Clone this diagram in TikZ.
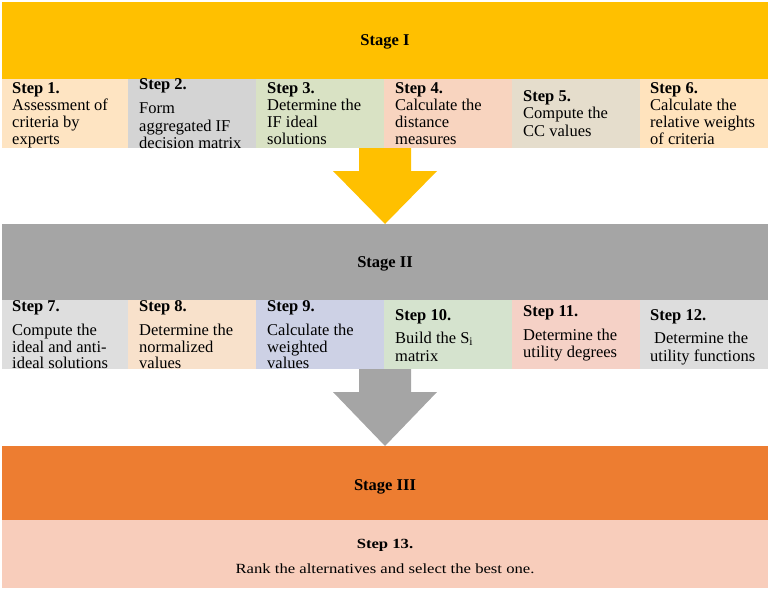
\documentclass[tikz,border=0pt]{standalone}
\usepackage{fontspec}
\setmainfont{Liberation Serif}
\usetikzlibrary{calc}
\definecolor{cStageI}{HTML}{FFC000}
\definecolor{cStageII}{HTML}{A5A5A5}
\definecolor{cStageIII}{HTML}{ED7D31}
\definecolor{cStepXIII}{HTML}{F8CDBB}
\definecolor{cS1}{HTML}{FEE4C2}
\definecolor{cS2}{HTML}{D4D4D4}
\definecolor{cS3}{HTML}{D9E2C4}
\definecolor{cS4}{HTML}{F8D4BF}
\definecolor{cS5}{HTML}{E5DDCC}
\definecolor{cS6}{HTML}{FFE3BD}
\definecolor{cS7}{HTML}{DEDEDE}
\definecolor{cS8}{HTML}{F8E1CB}
\definecolor{cS9}{HTML}{CDD1E5}
\definecolor{cS10}{HTML}{D5E3CE}
\definecolor{cS11}{HTML}{F5D1C6}
\definecolor{cS12}{HTML}{DDDDDD}
\tikzset{
  cellbox/.style={anchor=north west, inner sep=0pt, outer sep=0pt, minimum width=128pt, minimum height=#1, draw=none},
  barbox/.style={anchor=north west, inner sep=0pt, outer sep=0pt, minimum width=766pt, minimum height=#1, draw=none},
  steptext/.style={anchor=base west, inner sep=0pt, font=\fontsize{16.5}{17}\selectfont},
  stagetext/.style={anchor=base, inner sep=0pt, font=\fontsize{16.5}{17}\selectfont\bfseries},
}
\newcommand{\steplines}[1]{\begin{tabular}[t]{@{}l@{}}#1\end{tabular}}
\begin{document}
\begin{tikzpicture}[x=1pt,y=-1pt]
\useasboundingbox (0,0) rectangle (770,592);
% Stage I
\node[barbox=77pt, fill=cStageI] (stI) at (2,2) {};
\node[cellbox=69pt, fill=cS1] (s1) at (2,79) {};
\node[cellbox=69pt, fill=cS2] (s2) at (128,79) {};
\node[cellbox=69pt, fill=cS3] (s3) at (256,79) {};
\node[cellbox=69pt, fill=cS4] (s4) at (384,79) {};
\node[cellbox=69pt, fill=cS5] (s5) at (512,79) {};
\node[cellbox=69pt, fill=cS6] (s6) at (640,79) {};
% Stage II
\node[barbox=76pt, fill=cStageII] (stII) at (2,224) {};
\node[cellbox=69pt, fill=cS7] (s7) at (2,300) {};
\node[cellbox=69pt, fill=cS8] (s8) at (128,300) {};
\node[cellbox=69pt, fill=cS9] (s9) at (256,300) {};
\node[cellbox=69pt, fill=cS10] (s10) at (384,300) {};
\node[cellbox=69pt, fill=cS11] (s11) at (512,300) {};
\node[cellbox=69pt, fill=cS12] (s12) at (640,300) {};
% Stage III
\node[barbox=74pt, fill=cStageIII] (stIII) at (2,446) {};
\node[barbox=68pt, fill=cStepXIII] (s13) at (2,520) {};
% arrows
\fill[cStageI] ([xshift=-26pt]stII.north |- s4.south) -- ([xshift=26pt]stII.north |- s4.south)
  -- ([xshift=26pt,yshift=53pt]stII.north) -- ([xshift=52pt,yshift=53pt]stII.north)
  -- (stII.north) -- ([xshift=-52pt,yshift=53pt]stII.north)
  -- ([xshift=-26pt,yshift=53pt]stII.north) -- cycle;
\fill[cStageII] ([xshift=-26pt]stIII.north |- s10.south) -- ([xshift=26pt]stIII.north |- s10.south)
  -- ([xshift=26pt,yshift=54pt]stIII.north) -- ([xshift=52pt,yshift=54pt]stIII.north)
  -- (stIII.north) -- ([xshift=-52pt,yshift=54pt]stIII.north)
  -- ([xshift=-26pt,yshift=54pt]stIII.north) -- cycle;
% stage labels
\node[stagetext] (tI) at (385,45) {Stage I};
\node[stagetext] (tII) at (385,267) {Stage II};
\node[stagetext] (tIII) at (385,490) {Stage III};
% step texts row 1
\node[steptext] (t1) at (12,93) {\steplines{\textbf{Step 1.}\\Assessment of\\criteria by\\experts}};
\node[steptext] (t2) at (139,89) {\steplines{\textbf{Step 2.}\\[7pt]Form\\[1pt]aggregated IF\\decision matrix}};
\node[steptext] (t3) at (267,93) {\steplines{\textbf{Step 3.}\\Determine the\\IF ideal\\solutions}};
\node[steptext] (t4) at (395,93) {\steplines{\textbf{Step 4.}\\Calculate the\\distance\\measures}};
\node[steptext] (t5) at (523,101) {\steplines{\textbf{Step 5.}\\Compute the\\[1pt]CC values}};
\node[steptext] (t6) at (650,93) {\steplines{\textbf{Step 6.}\\Calculate the\\relative weights\\of criteria}};
% step texts row 2
\node[steptext] (t7) at (12,311) {\steplines{\textbf{Step 7.}\\[7pt]Compute the\\ideal and anti-\\[-1pt]ideal solutions}};
\node[steptext] (t8) at (139,311) {\steplines{\textbf{Step 8.}\\[7pt]Determine the\\normalized\\[-1pt]values}};
\node[steptext] (t9) at (267,311) {\steplines{\textbf{Step 9.}\\[7pt]Calculate the\\weighted\\[-1pt]values}};
\node[steptext] (t10) at (395,320) {\steplines{\textbf{Step 10.}\\[6pt]Build the S\textsubscript{i}\\[1pt]matrix}};
\node[steptext] (t11) at (523,316) {\steplines{\textbf{Step 11.}\\[7pt]Determine the\\utility degrees}};
\node[steptext] (t12) at (650,320) {\steplines{\textbf{Step 12.}\\[6pt]\hspace{4pt}Determine the\\[1pt]utility functions}};
% step 13
\node[anchor=base, inner sep=0pt, font=\fontsize{14}{17}\selectfont\bfseries] (t13a) at (385,548) {\scalebox{1.19}[1]{Step 13.}};
\node[anchor=base, inner sep=0pt, font=\fontsize{14}{17}\selectfont] (t13b) at (385,573) {\scalebox{1.19}[1]{Rank the alternatives and select the best one.}};
\end{tikzpicture}
\end{document}
